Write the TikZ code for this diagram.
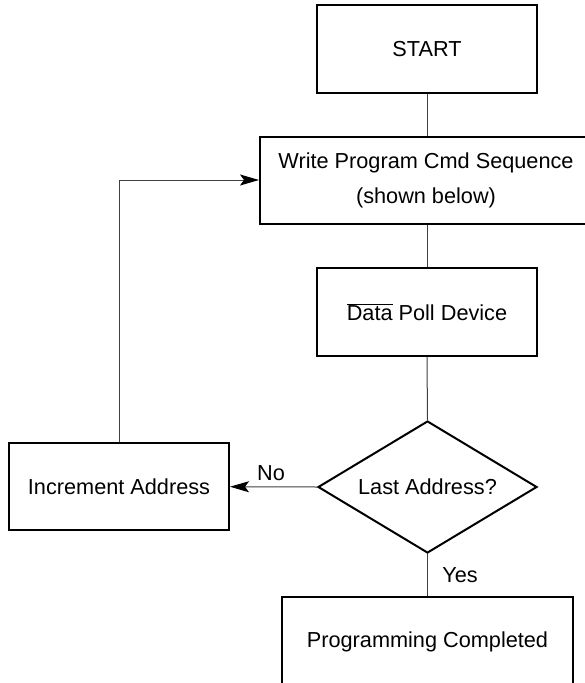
\documentclass[tikz,border=0pt]{standalone}
\usepackage{fontspec}
\setmainfont{Liberation Sans}
\usetikzlibrary{shapes.geometric,arrows.meta}

\tikzset{
  box/.style={draw=black, line width=2pt, rectangle, inner sep=0pt,
              font=\fontsize{21.7}{35}\selectfont, align=center},
  decision/.style={draw=black, line width=2pt, diamond, inner sep=0pt},
  link/.style={draw=black!75, line width=1pt},
  flow/.style={link, -{Stealth[length=19pt,width=11pt,inset=4pt,black]}},
  tag/.style={font=\fontsize{21.7}{26}\selectfont, inner sep=0pt}
}

\begin{document}
\begin{tikzpicture}[x=1pt, y=-1pt]
  % canvas, also trims the two boxes that run off the edge
  \clip (0,0) rectangle (585,683);
  \fill[white] (0,0) rectangle (585,683);

  % process steps
  \node[box, minimum width=220pt, minimum height=88pt] (start) at (427,49) {START};
  \node[box, minimum width=332pt, minimum height=87pt] (write) at (426,180)
       {Write Program Cmd Sequence\\(shown below)};
  \node[box, minimum width=220pt, minimum height=88pt] (poll) at (427,312)
       {$\overline{\mbox{Data}}$ Poll Device};
  \node[decision, minimum width=219pt, minimum height=132pt] (last) at (427.5,487) {};
  \node[tag] (lasttext) at (last.center) {Last Address?};
  \node[box, minimum width=220pt, minimum height=87pt] (inc) at (119,486.7)
       {Increment Address};
  \node[box, minimum width=291pt, minimum height=89pt] (done) at (427.5,641.5)
       {Programming Completed};

  % connectors
  \draw[link] (start.south) -- (write.north -| start.south);
  \draw[link] (write.south -| poll.north) -- (poll.north);
  \draw[link] (poll.south) -- (last.north);
  \draw[link] (last.south) -- (done.north -| last.south);
  \draw[flow] (last.west) -- (inc.east);
  \draw[flow] (inc.north) |- (write.west);

  % branch labels
  \node[tag] (no) at (271,473) {No};
  \node[tag] (yes) at (460,575) {Yes};
\end{tikzpicture}
\end{document}
